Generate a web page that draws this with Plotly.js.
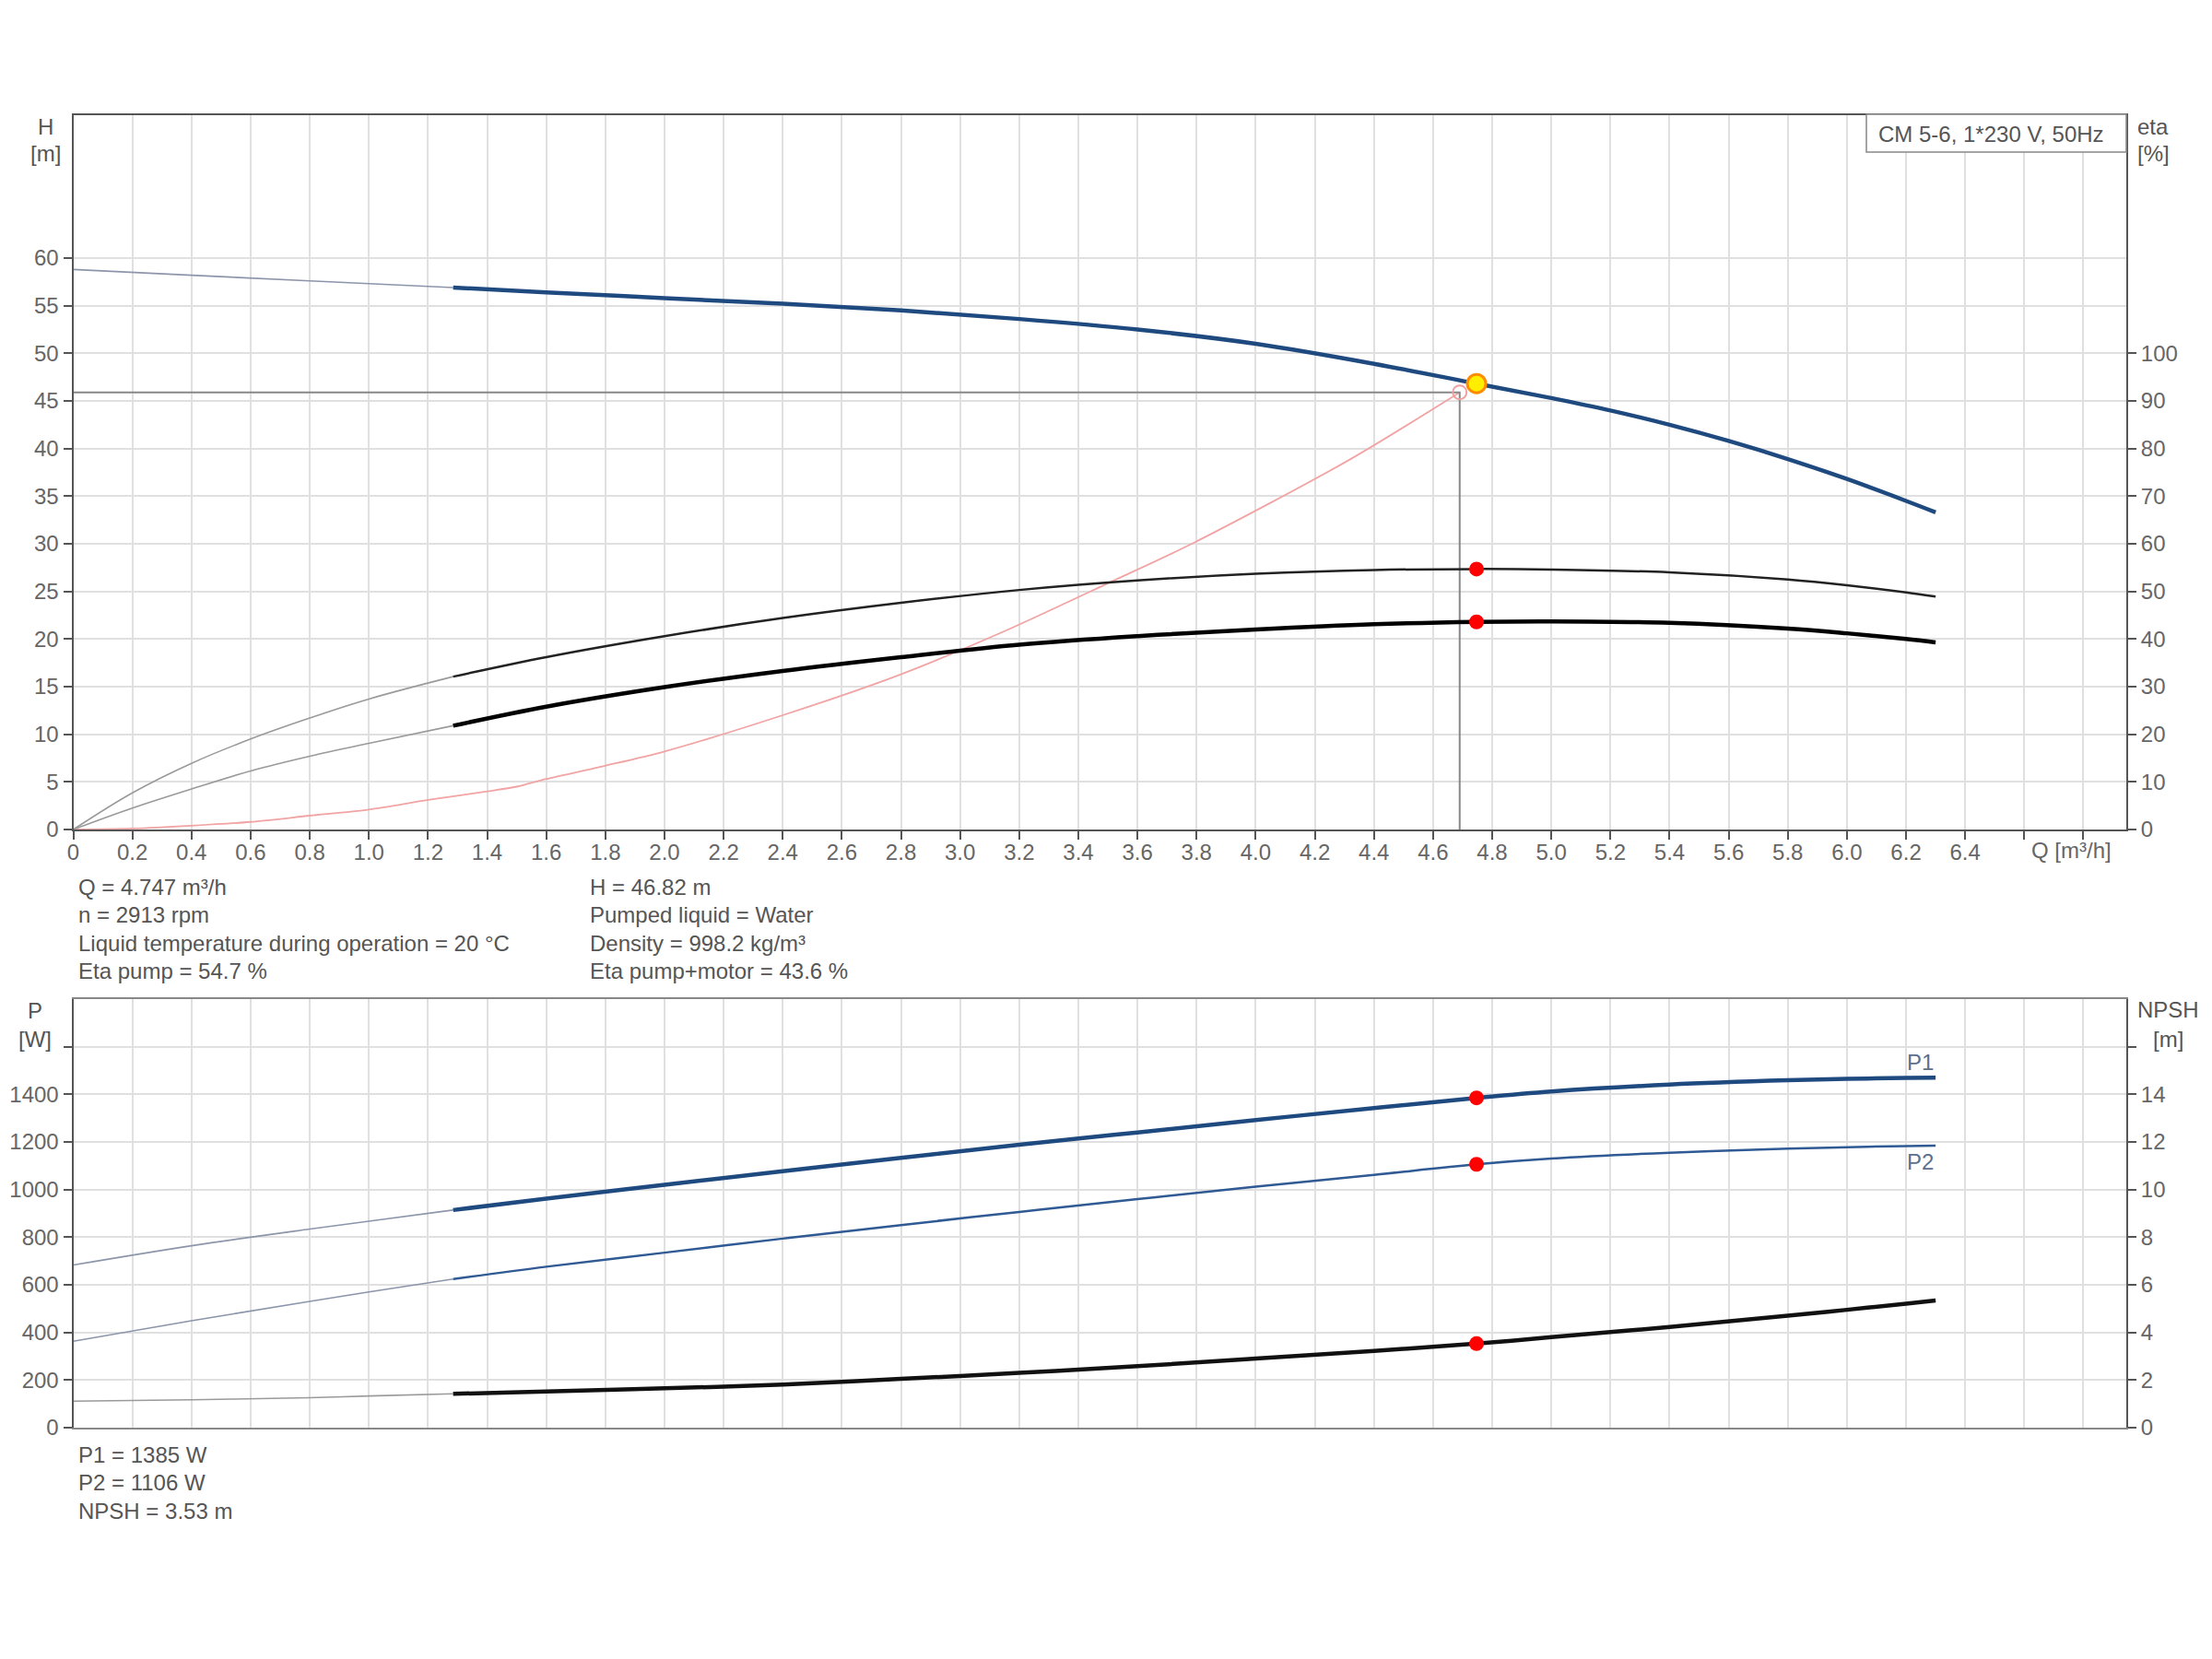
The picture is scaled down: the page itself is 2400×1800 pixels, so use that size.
<!DOCTYPE html>
<html>
<head>
<meta charset="utf-8">
<script src="https://cdn.plot.ly/plotly-3.0.1.min.js"></script>
<style>html,body{margin:0;padding:0;background:#fff;}#chart{width:2400px;height:1800px;}</style>
</head>
<body>
<div id="chart"></div>
<script>
// ---------------- DATA ----------------
const qTicks = [0,0.2,0.4,0.6,0.8,1.0,1.2,1.4,1.6,1.8,2.0,2.2,2.4,2.6,2.8,3.0,3.2,3.4,3.6,3.8,4.0,4.2,4.4,4.6,4.8,5.0,5.2,5.4,5.6,5.8,6.0,6.2,6.4,6.6,6.8];
const qTickText = ['0','0.2','0.4','0.6','0.8','1.0','1.2','1.4','1.6','1.8','2.0','2.2','2.4','2.6','2.8','3.0','3.2','3.4','3.6','3.8','4.0','4.2','4.4','4.6','4.8','5.0','5.2','5.4','5.6','5.8','6.0','6.2','6.4','',''];
const hTicks = [0,5,10,15,20,25,30,35,40,45,50,55,60];
const hExtraGrid = [65,70];
const etaTicks = [0,10,20,30,40,50,60,70,80,90,100];
const pTicks = [0,200,400,600,800,1000,1200,1400,1600];
const pTickText = ['0','200','400','600','800','1000','1200','1400',''];
const npshTicks = [0,2,4,6,8,10,12,14,16];
const npshTickText = ['0','2','4','6','8','10','12','14',''];

// Head curve H [m]
const qHExt = [0, 0.4, 0.8, 1.285];
const hExt  = [58.8, 58.2, 57.6, 56.9];
const qH = [1.285, 1.6, 2.0, 2.4, 2.8, 3.2, 3.6, 4.0, 4.4, 4.747, 5.0, 5.2, 5.4, 5.6, 5.8, 6.0, 6.2, 6.3];
const hVal = [56.9, 56.4, 55.8, 55.2, 54.5, 53.6, 52.5, 51.0, 48.9, 46.82, 45.3, 44.0, 42.5, 40.8, 38.9, 36.8, 34.5, 33.3];

// Eta pump [%]
const qEtaExt = [0, 0.2, 0.4, 0.6, 0.8, 1.0, 1.285];
const etaPumpExt = [0, 7.7, 13.9, 19.0, 23.4, 27.4, 32.1];
const qEta = [1.285, 1.6, 2.0, 2.4, 2.8, 3.2, 3.6, 4.0, 4.4, 4.747, 5.0, 5.4, 5.8, 6.0, 6.2, 6.3];
const etaPump = [32.1, 36.2, 40.6, 44.4, 47.6, 50.3, 52.3, 53.7, 54.5, 54.7, 54.6, 54.0, 52.5, 51.3, 49.8, 48.9];
// Eta pump+motor [%]
const etaTotExt = [0, 4.5, 8.5, 12.3, 15.4, 18.1, 21.8];
const etaTot = [21.8, 25.8, 29.9, 33.3, 36.2, 38.8, 40.6, 42.0, 43.1, 43.6, 43.7, 43.4, 42.2, 41.2, 40.0, 39.3];

// System curve [m]
const qSys = [0, 0.2, 0.4, 0.6, 0.8, 1.0, 1.2, 1.4, 1.5, 1.6, 1.8, 2.0, 2.4, 2.8, 3.17, 3.51, 3.79, 4.31, 4.69];
const hSys = [0, 0.1, 0.4, 0.8, 1.45, 2.1, 3.1, 4.0, 4.5, 5.3, 6.7, 8.2, 12.0, 16.3, 21.1, 26.0, 30.1, 38.7, 45.9];

// Duty point (requested) and operating point
const dutyQ = 4.69;
const dutyH = 45.9;
const opQ = 4.747;
const opH = 46.82;
const opEtaPump = 54.7;
const opEtaTot = 43.6;
const opP1 = 1385;
const opP2 = 1106;
const opNPSH = 3.53;

// Power P1, P2 [W]
const qPExt = [0, 0.4, 0.8, 1.0, 1.285];
const p1Ext = [683, 764, 834, 867, 914];
const p2Ext = [363, 449, 530, 570, 624];
const qP = [1.285, 1.6, 2.0, 2.4, 2.8, 3.2, 3.6, 4.0, 4.4, 4.747, 5.0, 5.4, 5.8, 6.0, 6.2, 6.3];
const p1 = [914, 962, 1020, 1077, 1133, 1188, 1240, 1292, 1342, 1385, 1412, 1441, 1459, 1465, 1469, 1470];
const p2 = [624, 676, 735, 794, 851, 906, 960, 1012, 1062, 1106, 1130, 1155, 1172, 1178, 1183, 1185];
// NPSH [m]
const npshExt = [1.11, 1.17, 1.26, 1.33, 1.42];
const npsh = [1.42, 1.515, 1.65, 1.81, 2.05, 2.30, 2.58, 2.90, 3.22, 3.53, 3.80, 4.23, 4.70, 4.95, 5.21, 5.34];

const infoLeft = ['Q = 4.747 m³/h', 'n = 2913 rpm', 'Liquid temperature during operation = 20 °C', 'Eta pump = 54.7 %'];
const infoRight = ['H = 46.82 m', 'Pumped liquid = Water', 'Density = 998.2 kg/m³', 'Eta pump+motor = 43.6 %'];
const infoBottom = ['P1 = 1385 W', 'P2 = 1106 W', 'NPSH = 3.53 m'];
const pumpName = 'CM 5-6, 1*230 V, 50Hz';

// ---------------- STYLE / LAYOUT ----------------
const W = 2400, Hh = 1800;
const px = v => v / W;
const py = v => 1 - v / Hh;
const FONT = 'Liberation Sans, Arial, sans-serif';
const tickFont = {family: FONT, size: 24, color: '#666'};
const textFont = {family: FONT, size: 24, color: '#555'};
const GRID = '#e0e0e0';
const AXIS = '#555';
const xDom = [px(79.5), px(2307)];
const xRange = [0, 6.945];

const dark = '#1f4a80';
const thinBlue = '#8c95aa';
const thinGray = '#9a9a9a';

const traces = [
  // system curve
  {x: qSys, y: hSys, xaxis: 'x', yaxis: 'y', mode: 'lines', line: {color: '#f2a3a3', width: 1.8, shape: 'spline', smoothing: 0.8}},
  // duty lines
  {x: [0, dutyQ, dutyQ], y: [dutyH, dutyH, 0], xaxis: 'x', yaxis: 'y', mode: 'lines', line: {color: '#888', width: 2}},
  // H curve
  {x: qHExt, y: hExt, xaxis: 'x', yaxis: 'y', mode: 'lines', line: {color: thinBlue, width: 1.6, shape: 'spline'}},
  {x: qH, y: hVal, xaxis: 'x', yaxis: 'y', mode: 'lines', line: {color: dark, width: 4.5, shape: 'spline'}},
  // eta curves
  {x: qEtaExt, y: etaPumpExt, xaxis: 'x', yaxis: 'y2', mode: 'lines', line: {color: thinGray, width: 1.6, shape: 'spline'}},
  {x: qEtaExt, y: etaTotExt, xaxis: 'x', yaxis: 'y2', mode: 'lines', line: {color: thinGray, width: 1.6, shape: 'spline'}},
  {x: qEta, y: etaPump, xaxis: 'x', yaxis: 'y2', mode: 'lines', line: {color: '#222', width: 2.5, shape: 'spline'}},
  {x: qEta, y: etaTot, xaxis: 'x', yaxis: 'y2', mode: 'lines', line: {color: '#000', width: 4.5, shape: 'spline'}},
  // markers top
  {x: [dutyQ], y: [dutyH], xaxis: 'x', yaxis: 'y', mode: 'markers', marker: {symbol: 'circle-open', size: 15, color: '#f0a0a0', line: {width: 2, color: '#f0a0a0'}}},
  {x: [opQ, opQ], y: [opEtaPump, opEtaTot], xaxis: 'x', yaxis: 'y2', mode: 'markers', marker: {size: 16, color: '#ff0000'}},
  {x: [opQ], y: [opH], xaxis: 'x', yaxis: 'y', mode: 'markers', marker: {size: 20, color: '#ffee00', line: {color: '#ff8c00', width: 3}}},
  // bottom: P1, P2
  {x: qPExt, y: p1Ext, xaxis: 'x2', yaxis: 'y3', mode: 'lines', line: {color: thinBlue, width: 1.6, shape: 'spline'}},
  {x: qPExt, y: p2Ext, xaxis: 'x2', yaxis: 'y3', mode: 'lines', line: {color: thinBlue, width: 1.6, shape: 'spline'}},
  {x: qP, y: p1, xaxis: 'x2', yaxis: 'y3', mode: 'lines', line: {color: dark, width: 4.5, shape: 'spline'}},
  {x: qP, y: p2, xaxis: 'x2', yaxis: 'y3', mode: 'lines', line: {color: '#2f5a94', width: 2.5, shape: 'spline'}},
  // NPSH
  {x: qPExt, y: npshExt, xaxis: 'x2', yaxis: 'y4', mode: 'lines', line: {color: thinGray, width: 1.6, shape: 'spline'}},
  {x: qP, y: npsh, xaxis: 'x2', yaxis: 'y4', mode: 'lines', line: {color: '#111', width: 4.5, shape: 'spline'}},
  {x: [opQ, opQ], y: [opP1, opP2], xaxis: 'x2', yaxis: 'y3', mode: 'markers', marker: {size: 16, color: '#ff0000'}},
  {x: [opQ], y: [opNPSH], xaxis: 'x2', yaxis: 'y4', mode: 'markers', marker: {size: 16, color: '#ff0000'}}
];

const axisCommon = {
  showgrid: true, gridcolor: GRID, gridwidth: 2, zeroline: false,
  showline: true, linecolor: AXIS, linewidth: 2,
  ticks: 'outside', ticklen: 9, tickwidth: 2, tickcolor: AXIS,
  tickfont: tickFont, tickmode: 'array', fixedrange: true
};

function ann(text, x, y, opts) {
  return Object.assign({text: text, x: px(x), y: py(y), xref: 'paper', yref: 'paper', showarrow: false,
    font: textFont, xanchor: 'center', yanchor: 'middle'}, opts || {});
}

const annotations = [
  ann('H', 49, 137), ann('[m]', 49, 167),
  ann('eta', 2336, 137), ann('[%]', 2336, 167),
  ann('P', 38, 1096), ann('[W]', 38, 1127),
  ann('NPSH', 2352, 1095), ann('[m]', 2352, 1127),
  ann('Q [m³/h]', 2247, 922, {font: tickFont}),
  ann(pumpName, 2160, 145),
  ann('P1', 2083, 1152, {font: {family: FONT, size: 24, color: '#5b6f8f'}}),
  ann('P2', 2083, 1260, {font: {family: FONT, size: 24, color: '#5b6f8f'}})
];
const lineYs = [962, 992, 1023, 1053];
infoLeft.forEach((t, i) => annotations.push(ann(t, 83, lineYs[i], {xanchor: 'left'})));
infoRight.forEach((t, i) => annotations.push(ann(t, 638, lineYs[i], {xanchor: 'left'})));
const botYs = [1578, 1608, 1639];
infoBottom.forEach((t, i) => annotations.push(ann(t, 83, botYs[i], {xanchor: 'left'})));

const layout = {
  width: W, height: Hh,
  margin: {l: 0, r: 0, t: 0, b: 0},
  paper_bgcolor: '#fff', plot_bgcolor: '#fff',
  showlegend: false,
  font: textFont,
  xaxis: Object.assign({}, axisCommon, {domain: xDom, range: xRange, anchor: 'y', tickvals: qTicks, ticktext: qTickText, mirror: true, ticklabelstandoff: -7}),
  yaxis: Object.assign({}, axisCommon, {domain: [py(900), py(125)], range: [0, 75], anchor: 'x', tickvals: hTicks}),
  yaxis2: Object.assign({}, axisCommon, {overlaying: 'y', side: 'right', range: [0, 150], anchor: 'x', tickvals: etaTicks, showgrid: false}),
  yaxis5: {overlaying: 'y', range: [0, 75], anchor: 'x', tickmode: 'array', tickvals: hExtraGrid, showticklabels: false, ticks: '',
           showgrid: true, gridcolor: GRID, gridwidth: 2, zeroline: false, showline: false, fixedrange: true},
  xaxis2: Object.assign({}, axisCommon, {domain: xDom, range: xRange, anchor: 'y3', tickvals: qTicks, showticklabels: false, ticks: '', mirror: true, linecolor: '#888'}),
  yaxis3: Object.assign({}, axisCommon, {domain: [py(1549), py(1084)], range: [0, 1800], anchor: 'x2', tickvals: pTicks, ticktext: pTickText}),
  yaxis4: Object.assign({}, axisCommon, {overlaying: 'y3', side: 'right', range: [0, 18], anchor: 'x2', tickvals: npshTicks, ticktext: npshTickText, showgrid: false}),
  shapes: [
    {type: 'rect', xref: 'paper', yref: 'paper', x0: px(2025), x1: px(2307), y0: py(165), y1: py(124),
     fillcolor: '#fff', line: {color: '#888', width: 1.5}, layer: 'above'}
  ],
  annotations: annotations
};

Plotly.newPlot('chart', traces, layout, {staticPlot: true, displayModeBar: false});
</script>
</body>
</html>
